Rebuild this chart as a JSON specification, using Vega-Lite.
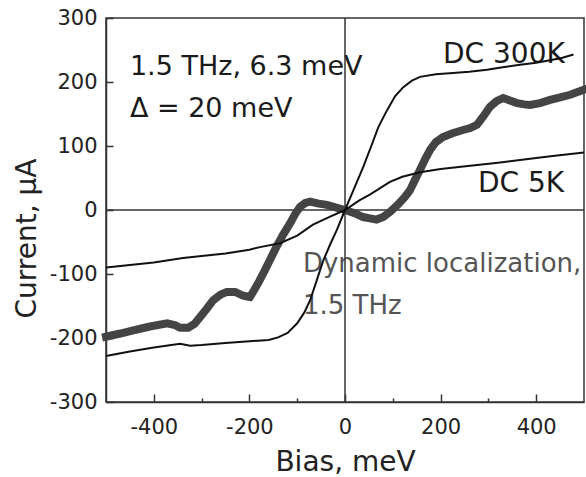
{
  "$schema": "https://vega.github.io/schema/vega-lite/v6.json",
  "width": 478,
  "height": 384,
  "autosize": {"type": "none"},
  "padding": {"left": 106, "top": 18, "right": 2, "bottom": 75},
  "background": "white",
  "config": {
    "view": {"stroke": "#333", "strokeWidth": 1.5},
    "font": "DejaVu Sans",
    "axis": {
      "grid": false,
      "domainColor": "#333",
      "domainWidth": 1.5,
      "tickColor": "#333",
      "tickWidth": 1.5,
      "labelFont": "DejaVu Sans",
      "labelFontSize": 21,
      "labelColor": "#222",
      "titleFont": "DejaVu Sans",
      "titleFontSize": 28,
      "titleFontWeight": "normal",
      "titleColor": "#222"
    }
  },
  "datasets": {
    "curves": [
      {"series": "DC 300K", "bias": -500, "current": -228},
      {"series": "DC 300K", "bias": -450, "current": -221},
      {"series": "DC 300K", "bias": -400, "current": -215},
      {"series": "DC 300K", "bias": -345, "current": -209},
      {"series": "DC 300K", "bias": -324, "current": -212},
      {"series": "DC 300K", "bias": -300, "current": -211},
      {"series": "DC 300K", "bias": -250, "current": -208},
      {"series": "DC 300K", "bias": -200, "current": -205},
      {"series": "DC 300K", "bias": -160, "current": -203},
      {"series": "DC 300K", "bias": -140, "current": -199},
      {"series": "DC 300K", "bias": -120, "current": -192},
      {"series": "DC 300K", "bias": -100, "current": -177},
      {"series": "DC 300K", "bias": -85, "current": -160},
      {"series": "DC 300K", "bias": -73, "current": -141},
      {"series": "DC 300K", "bias": -60, "current": -112},
      {"series": "DC 300K", "bias": -46, "current": -80},
      {"series": "DC 300K", "bias": -30, "current": -52},
      {"series": "DC 300K", "bias": -17, "current": -31},
      {"series": "DC 300K", "bias": 0, "current": 0},
      {"series": "DC 300K", "bias": 17, "current": 30},
      {"series": "DC 300K", "bias": 38, "current": 67},
      {"series": "DC 300K", "bias": 55, "current": 100},
      {"series": "DC 300K", "bias": 70, "current": 130},
      {"series": "DC 300K", "bias": 88, "current": 156},
      {"series": "DC 300K", "bias": 105, "current": 178},
      {"series": "DC 300K", "bias": 122, "current": 192},
      {"series": "DC 300K", "bias": 140, "current": 202},
      {"series": "DC 300K", "bias": 157, "current": 208},
      {"series": "DC 300K", "bias": 190, "current": 212},
      {"series": "DC 300K", "bias": 226, "current": 214},
      {"series": "DC 300K", "bias": 260, "current": 216},
      {"series": "DC 300K", "bias": 297, "current": 219},
      {"series": "DC 300K", "bias": 330, "current": 223},
      {"series": "DC 300K", "bias": 366, "current": 227},
      {"series": "DC 300K", "bias": 400, "current": 230},
      {"series": "DC 300K", "bias": 429, "current": 234},
      {"series": "DC 300K", "bias": 455, "current": 238},
      {"series": "DC 300K", "bias": 478, "current": 243},
      {"series": "DC 5K", "bias": -500, "current": -90},
      {"series": "DC 5K", "bias": -450, "current": -86},
      {"series": "DC 5K", "bias": -400, "current": -82},
      {"series": "DC 5K", "bias": -339, "current": -75},
      {"series": "DC 5K", "bias": -300, "current": -72},
      {"series": "DC 5K", "bias": -250, "current": -68},
      {"series": "DC 5K", "bias": -200, "current": -62},
      {"series": "DC 5K", "bias": -178, "current": -58},
      {"series": "DC 5K", "bias": -136, "current": -52},
      {"series": "DC 5K", "bias": -100, "current": -40},
      {"series": "DC 5K", "bias": -67, "current": -23},
      {"series": "DC 5K", "bias": -30, "current": -10},
      {"series": "DC 5K", "bias": 0, "current": 0},
      {"series": "DC 5K", "bias": 30, "current": 15},
      {"series": "DC 5K", "bias": 52, "current": 24},
      {"series": "DC 5K", "bias": 94, "current": 44},
      {"series": "DC 5K", "bias": 120, "current": 52},
      {"series": "DC 5K", "bias": 157, "current": 59},
      {"series": "DC 5K", "bias": 200, "current": 64},
      {"series": "DC 5K", "bias": 262, "current": 69},
      {"series": "DC 5K", "bias": 320, "current": 74},
      {"series": "DC 5K", "bias": 366, "current": 78},
      {"series": "DC 5K", "bias": 430, "current": 84},
      {"series": "DC 5K", "bias": 500, "current": 90}
    ],
    "dynamic": [
      {"bias": -500, "current": -198},
      {"bias": -470, "current": -193},
      {"bias": -443, "current": -188},
      {"bias": -408, "current": -182},
      {"bias": -372, "current": -177},
      {"bias": -355, "current": -180},
      {"bias": -345, "current": -184},
      {"bias": -328, "current": -184},
      {"bias": -315, "current": -178},
      {"bias": -303, "current": -167},
      {"bias": -290, "current": -155},
      {"bias": -276, "current": -141},
      {"bias": -260, "current": -132},
      {"bias": -247, "current": -128},
      {"bias": -230, "current": -128},
      {"bias": -213, "current": -134},
      {"bias": -199, "current": -136},
      {"bias": -190, "current": -125},
      {"bias": -180, "current": -112},
      {"bias": -171, "current": -99},
      {"bias": -157, "current": -78},
      {"bias": -143, "current": -57},
      {"bias": -129, "current": -38},
      {"bias": -115, "current": -21},
      {"bias": -104, "current": -6},
      {"bias": -94, "current": 5},
      {"bias": -83, "current": 11},
      {"bias": -73, "current": 13},
      {"bias": -55, "current": 10},
      {"bias": -38, "current": 8},
      {"bias": -20, "current": 4},
      {"bias": 0, "current": 0},
      {"bias": 20, "current": -5},
      {"bias": 38, "current": -11},
      {"bias": 52, "current": -13},
      {"bias": 66, "current": -15},
      {"bias": 80, "current": -11},
      {"bias": 94, "current": -3},
      {"bias": 110, "current": 8},
      {"bias": 125, "current": 20},
      {"bias": 136, "current": 31},
      {"bias": 147, "current": 48},
      {"bias": 157, "current": 63},
      {"bias": 168, "current": 80},
      {"bias": 178, "current": 94},
      {"bias": 190, "current": 106},
      {"bias": 205, "current": 114},
      {"bias": 225, "current": 120},
      {"bias": 247, "current": 125},
      {"bias": 262, "current": 128},
      {"bias": 276, "current": 133},
      {"bias": 290, "current": 147},
      {"bias": 303, "current": 161},
      {"bias": 317, "current": 170},
      {"bias": 331, "current": 175},
      {"bias": 345, "current": 171},
      {"bias": 360, "current": 167},
      {"bias": 375, "current": 165},
      {"bias": 387, "current": 164},
      {"bias": 408, "current": 167},
      {"bias": 429, "current": 172},
      {"bias": 450, "current": 176},
      {"bias": 471, "current": 180},
      {"bias": 485, "current": 184},
      {"bias": 500, "current": 188}
    ],
    "notes": [
      {"label": "1.5 THz, 6.3 meV", "bias": -450, "current": 211},
      {"label": "Δ = 20 meV", "bias": -450, "current": 145}
    ],
    "dcnotes": [
      {"label": "DC 300K", "bias": 205, "current": 230},
      {"label": "DC 5K", "bias": 278, "current": 28}
    ],
    "greynotes": [
      {"label": "Dynamic localization,", "bias": -88, "current": -97},
      {"label": "1.5 THz", "bias": -88, "current": -162}
    ],
    "zero": [{"bias": 0, "current": 0}]
  },
  "layer": [
    {
      "data": {"name": "notes"},
      "mark": {"type": "text", "align": "left", "baseline": "alphabetic", "fontSize": 27, "font": "DejaVu Sans", "color": "#1a1a1a"},
      "encoding": {
        "x": {
          "field": "bias",
          "type": "quantitative",
          "scale": {"domain": [-500, 500], "nice": false, "zero": false},
          "axis": {
            "title": "Bias, meV",
            "values": [-400, -300, -200, -100, 0, 100, 200, 300, 400],
            "labelExpr": "datum.value % 200 == 0 ? '' + datum.value : ''",
            "tickSize": {"condition": {"test": "datum.value % 200 == 0", "value": -8}, "value": -4},
            "labelPadding": 22,
            "titleY": 68,
            "titleBaseline": "alphabetic"
          }
        },
        "y": {
          "field": "current",
          "type": "quantitative",
          "scale": {"domain": [-300, 300], "nice": false, "zero": false},
          "axis": {
            "title": "Current, μA",
            "values": [-300, -250, -200, -150, -100, -50, 0, 50, 100, 150, 200, 250, 300],
            "labelExpr": "datum.value % 100 == 0 ? '' + datum.value : ''",
            "tickSize": {"condition": {"test": "datum.value % 100 == 0", "value": -7}, "value": -4},
            "labelPadding": 16,
            "titleX": -71,
            "titleY": 220,
            "titleAngle": 270,
            "titleAlign": "center",
            "titleBaseline": "alphabetic"
          }
        },
        "text": {"field": "label"}
      }
    },
    {
      "data": {"name": "dcnotes"},
      "mark": {"type": "text", "align": "left", "baseline": "alphabetic", "fontSize": 28, "font": "DejaVu Sans", "color": "#1a1a1a"},
      "encoding": {
        "x": {"field": "bias", "type": "quantitative"},
        "y": {"field": "current", "type": "quantitative"},
        "text": {"field": "label"}
      }
    },
    {
      "data": {"name": "greynotes"},
      "mark": {"type": "text", "align": "left", "baseline": "alphabetic", "fontSize": 26, "font": "DejaVu Sans", "color": "#555"},
      "encoding": {
        "x": {"field": "bias", "type": "quantitative"},
        "y": {"field": "current", "type": "quantitative"},
        "text": {"field": "label"}
      }
    },
    {
      "data": {"name": "zero"},
      "mark": {"type": "rule", "color": "#333", "strokeWidth": 1.5},
      "encoding": {"x": {"field": "bias", "type": "quantitative"}}
    },
    {
      "data": {"name": "zero"},
      "mark": {"type": "rule", "color": "#333", "strokeWidth": 1.5},
      "encoding": {"y": {"field": "current", "type": "quantitative"}}
    },
    {
      "data": {"name": "dynamic"},
      "mark": {"type": "line", "color": "#444", "strokeWidth": 8, "strokeCap": "square", "strokeJoin": "miter"},
      "encoding": {
        "x": {"field": "bias", "type": "quantitative"},
        "y": {"field": "current", "type": "quantitative"},
        "order": {"field": "bias", "type": "quantitative"}
      }
    },
    {
      "data": {"name": "curves"},
      "mark": {"type": "line", "color": "#111", "strokeWidth": 2},
      "encoding": {
        "x": {"field": "bias", "type": "quantitative"},
        "y": {"field": "current", "type": "quantitative"},
        "detail": {"field": "series"},
        "order": {"field": "bias", "type": "quantitative"}
      }
    }
  ]
}
